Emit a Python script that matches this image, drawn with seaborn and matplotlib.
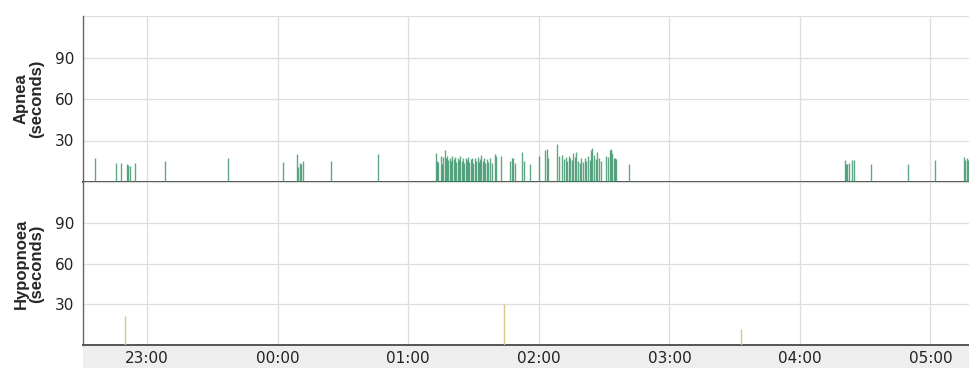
import matplotlib
matplotlib.use("Agg")
import matplotlib.pyplot as plt
import matplotlib.dates as mdates
from matplotlib.patches import Rectangle
import pandas as pd
import seaborn as sns

# Apnea events: start clock time and duration in seconds
apnea_times = [
    "22:36:06", "22:45:48", "22:47:54", "22:50:42", "22:51:18", "22:51:54", "22:54:30",
    "23:08:18", "23:37:00", "00:02:24", "00:09:00", "00:09:30", "00:10:12", "00:10:48",
    "00:11:36", "00:24:30", "00:46:12",
    "01:12:32", "01:12:59", "01:13:26", "01:14:49", "01:15:26", "01:16:03", "01:16:40",
    "01:17:07", "01:17:44", "01:18:20", "01:18:57", "01:19:34", "01:20:11", "01:20:47",
    "01:21:24", "01:22:01", "01:22:38", "01:23:14", "01:23:51", "01:24:28", "01:25:04",
    "01:25:41", "01:26:18", "01:26:55", "01:27:31", "01:28:08", "01:28:45", "01:29:22",
    "01:29:58", "01:30:35", "01:31:12", "01:31:49", "01:32:25", "01:33:02", "01:33:38",
    "01:34:16", "01:34:52", "01:35:29", "01:36:05", "01:36:52", "01:37:47", "01:38:42",
    "01:39:55", "01:40:32", "01:42:50", "01:46:39", "01:47:34", "01:48:20", "01:49:06",
    "01:52:28", "01:53:14", "01:56:08", "02:00:07", "02:02:53", "02:03:47", "02:04:25",
    "02:08:32", "02:09:18", "02:10:50", "02:11:27", "02:12:22", "02:13:08", "02:13:53",
    "02:14:31", "02:15:16", "02:15:53", "02:16:39", "02:17:16", "02:18:02", "02:18:47",
    "02:19:34", "02:20:19", "02:21:05", "02:21:51", "02:22:37", "02:23:23", "02:23:59",
    "02:24:37", "02:25:22", "02:26:08", "02:26:54", "02:27:40", "02:28:26", "02:31:02",
    "02:31:57", "02:32:34", "02:33:11", "02:33:47", "02:34:24", "02:35:10", "02:35:38",
    "02:41:26",
    "04:20:36", "04:21:12", "04:21:48", "04:22:42", "04:24:00", "04:24:42", "04:32:42",
    "04:49:48", "05:02:12", "05:15:12", "05:16:00", "05:16:36", "05:17:24",
]
apnea_secs = [
    17.5, 14, 14, 13, 12, 11.5, 14,
    15, 17.5, 14.5, 20, 11, 14, 13,
    15, 15, 20,
    21, 15, 14.6, 18.5, 13, 18, 23,
    17, 19, 16, 17.5, 15, 19, 16.5,
    18, 14.5, 17.5, 16, 18.5, 15, 17,
    14, 17, 16, 18, 14.7, 16.5, 17.5,
    14, 17, 15, 18, 14.5, 16.5, 19.5,
    15, 17.5, 14, 16.5, 14.7, 17, 13.5,
    20, 18.5, 19, 15, 17, 17.5, 14,
    21.5, 15, 13, 18.5, 23, 24, 17,
    27.5, 18.5, 19.5, 16.5, 18, 15, 19,
    17, 16, 21, 18, 22, 15, 14,
    17, 14.5, 17.5, 15, 18.5, 16, 23,
    24.5, 19.5, 16.5, 21.5, 17.5, 15, 19,
    18, 23, 24, 21, 17.5, 17, 16.5,
    13,
    16, 13, 13, 14, 16, 16, 13,
    13, 16, 18, 16, 17, 16,
]

# Hypopnoea events
hypopnoea_times = ["22:50:00", "01:43:54", "03:32:42"]
hypopnoea_secs = [21, 30, 12]

hour_labels = ["23:00", "00:00", "01:00", "02:00", "03:00", "04:00", "05:00"]
y_ticks = [30, 60, 90]
night_start = "22:30:30"
night_end = "05:18:10"


def to_stamp(clock):
    # evening times belong to the first date, early-morning times to the next
    day = "2024-01-01" if int(clock[:2]) >= 12 else "2024-01-02"
    return pd.Timestamp(f"{day} {clock}")


apnea = pd.DataFrame({"time": [to_stamp(t) for t in apnea_times], "secs": apnea_secs})
hypo = pd.DataFrame({"time": [to_stamp(t) for t in hypopnoea_times], "secs": hypopnoea_secs})

sns.set_theme(style="white")
plt.rcParams["font.family"] = ["DejaVu Sans"]

fig = plt.figure(figsize=(9.7, 3.68), dpi=100)
fig.patch.set_facecolor("white")

# light band behind the time labels
band = Rectangle((83 / 970, 0), 1 - 83 / 970, 23 / 368,
                 transform=fig.transFigure, facecolor="#eeeeee",
                 edgecolor="none", zorder=-5)
fig.patches.append(band)

left = 83 / 970
ax1 = fig.add_axes([left, 1 - 182 / 368, 1 - left, (182 - 16) / 368])
ax2 = fig.add_axes([left, 1 - 345 / 368, 1 - left, (345 - 182) / 368], sharex=ax1)

panels = [
    (ax1, apnea, "#2b8a5e", 0.75, "Apnea\n(seconds)"),
    (ax2, hypo, "#d3cb88", 1.0, "Hypopnoea\n(seconds)"),
]

x0, x1 = to_stamp(night_start), to_stamp(night_end)
hours = [to_stamp(h + ":00") for h in hour_labels]

for ax, df, col, alpha, label in panels:
    ax.set_facecolor("none")
    ax.vlines(df["time"], 0, df["secs"], color=col, alpha=alpha, linewidth=1.0, zorder=3)
    ax.set_ylim(0, 120)
    ax.set_xlim(x0, x1)
    ax.set_yticks(y_ticks)
    ax.set_xticks(hours)
    ax.grid(True, color="#dedede", linewidth=0.9, zorder=0)
    ax.axhline(120, color="#dedede", linewidth=0.9, zorder=0)
    for side in ["top", "right"]:
        ax.spines[side].set_visible(False)
    ax.spines["left"].set_color("#666666")
    ax.spines["left"].set_linewidth(1.0)
    ax.spines["bottom"].set_color("#555555")
    ax.spines["bottom"].set_linewidth(1.4)
    ax.tick_params(axis="both", length=0, labelsize=11, colors="#222222", pad=6)
    ax.set_ylabel(label, fontsize=12, fontweight="bold", family="Liberation Sans",
                  labelpad=8, linespacing=1.05)

ax1.tick_params(axis="x", labelbottom=False)
ax2.xaxis.set_major_formatter(mdates.DateFormatter("%H:%M"))
ax2.tick_params(axis="x", labelbottom=True, pad=4)

fig.savefig("out.png", dpi=100)
